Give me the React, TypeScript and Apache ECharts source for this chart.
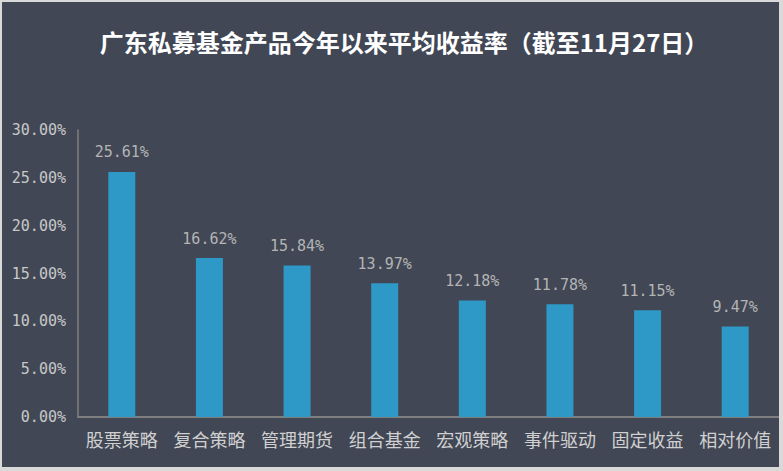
import React, { useEffect, useRef } from "react";
import * as echarts from "echarts";

const categories = ["股票策略", "复合策略", "管理期货", "组合基金", "宏观策略", "事件驱动", "固定收益", "相对价值"];
const values = [25.61, 16.62, 15.84, 13.97, 12.18, 11.78, 11.15, 9.47];
const titleText = "广东私募基金产品今年以来平均收益率（截至11月27日）";

export default function App() {
  const ref = useRef<HTMLDivElement>(null);
  useEffect(() => {
    if (!ref.current) return;
    const chart = echarts.init(ref.current, null, { renderer: "svg" });
    const mono = "'DejaVu Sans Mono', 'Liberation Mono', monospace";
    chart.setOption({
      animation: false,
      backgroundColor: "#414755",
      graphic: [
        {
          type: "text",
          x: 402,
          y: 39,
          style: {
            text: titleText,
            fill: "#ffffff",
            fontSize: 24,
            fontWeight: "bold",
            fontFamily: "'Noto Sans CJK SC', sans-serif",
            textAlign: "center",
            textVerticalAlign: "middle",
          },
        },
      ],
      grid: { left: 76, right: 0, top: 128, bottom: 50, containLabel: false },
      xAxis: {
        type: "category",
        data: categories,
        axisLine: { lineStyle: { color: "#7f7f7f", width: 2 } },
        axisTick: { show: false },
        axisLabel: {
          interval: 0,
          color: "#d0d0d0",
          fontSize: 18,
          margin: 13,
          fontFamily: "'Noto Sans CJK SC', sans-serif",
        },
      },
      yAxis: {
        type: "value",
        min: 0,
        max: 30,
        interval: 5,
        axisLine: { show: true, lineStyle: { color: "#7f7f7f", width: 1.5 } },
        axisTick: { show: false },
        splitLine: { show: false },
        axisLabel: {
          color: "#c8c8c8",
          fontSize: 15,
          margin: 12,
          fontFamily: mono,
          formatter: (v: number) => v.toFixed(2) + "%",
        },
      },
      series: [
        {
          type: "bar",
          data: values,
          barWidth: 27,
          itemStyle: { color: "#2E98C6" },
          label: {
            show: true,
            position: "top",
            distance: 12,
            color: "#b4b4b4",
            fontSize: 15,
            fontFamily: mono,
            formatter: (p: any) => p.value.toFixed(2) + "%",
          },
        },
      ],
    });
    return () => chart.dispose();
  }, []);
  return (
    <div style={{ position: "fixed", left: 0, top: 0, width: 783, height: 471, background: "#d9d9d9" }}>
      <div ref={ref} style={{ position: "absolute", left: 2, top: 2, width: 777, height: 465 }} />
    </div>
  );
}
